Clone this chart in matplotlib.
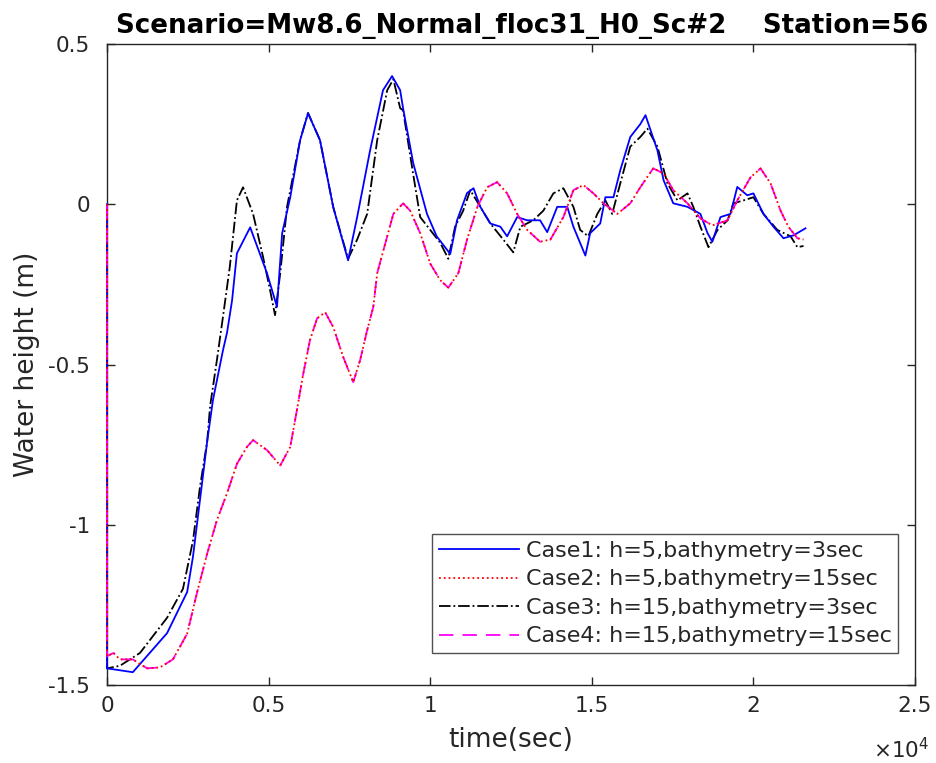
import matplotlib
matplotlib.use("Agg")
import matplotlib.pyplot as plt

# Case1 (blue solid)
t1 = [0, 1, 800, 1860, 2480, 2660, 2880, 3100, 3280, 3590, 3715, 3870, 4020, 4430, 4950, 5260, 5420,
      5670, 5975, 6220, 6590, 7000, 7460, 7740, 8140, 8540, 8820, 9070, 9160, 9475, 9900, 10200, 10620,
      10830, 11140, 11340, 11550, 11860, 12170, 12380, 12690, 13000, 13400, 13620, 13930, 14240, 14430,
      14800, 14950, 15260, 15420, 15670, 15880, 16190, 16500, 16660, 17030, 17220, 17520, 17960, 18360,
      18580, 18730, 18980, 19290, 19500, 19810, 20000, 20310, 20620, 20930, 21240, 21610]
y1 = [0, -1.448, -1.46, -1.338, -1.21, -1.10, -0.92, -0.74, -0.61, -0.455, -0.40, -0.30, -0.153, -0.072,
      -0.215, -0.32, -0.09, 0.022, 0.20, 0.284, 0.20, -0.009, -0.175, -0.04, 0.168, 0.356, 0.40, 0.356,
      0.30, 0.128, -0.03, -0.10, -0.155, -0.05, 0.035, 0.05, -0.008, -0.06, -0.07, -0.10, -0.04, -0.05,
      -0.05, -0.087, -0.008, -0.008, -0.07, -0.16, -0.09, -0.06, 0.022, 0.022, 0.106, 0.21, 0.25, 0.278,
      0.168, 0.075, 0.003, -0.008, -0.03, -0.09, -0.117, -0.04, -0.03, 0.054, 0.028, 0.034, -0.03, -0.07,
      -0.106, -0.097, -0.075]

# Case3 (black dash-dot)
t3 = [0, 1, 400, 1020, 1860, 2350, 2660, 2880, 3100, 3190, 3400, 3590, 3800, 4020, 4210, 4520, 4830,
      5050, 5200, 5360, 5570, 5975, 6220, 6590, 7000, 7460, 7740, 8050, 8360, 8670, 8860, 9070, 9160,
      9470, 9690, 10000, 10310, 10560, 10770, 11020, 11240, 11550, 11860, 12260, 12570, 12790, 13190,
      13500, 13810, 14120, 14430, 14640, 14890, 15170, 15420, 15630, 15880, 16190, 16500, 16720, 17030,
      17340, 17650, 17960, 18140, 18360, 18610, 18890, 19200, 19380, 19690, 20000, 20310, 20740, 21150,
      21360, 21550]
y3 = [0, -1.448, -1.44, -1.40, -1.29, -1.20, -1.05, -0.88, -0.74, -0.63, -0.487, -0.35, -0.195, 0.012,
      0.053, -0.03, -0.165, -0.27, -0.346, -0.215, -0.008, 0.20, 0.285, 0.20, -0.009, -0.17, -0.11, -0.03,
      0.20, 0.356, 0.39, 0.30, 0.293, 0.096, -0.04, -0.08, -0.12, -0.17, -0.07, -0.02, 0.044, -0.008,
      -0.06, -0.11, -0.15, -0.07, -0.05, -0.02, 0.034, 0.05, -0.008, -0.08, -0.10, -0.03, 0.012, -0.03,
      0.065, 0.18, 0.21, 0.236, 0.18, 0.065, 0.012, 0.034, -0.008, -0.07, -0.134, -0.08, -0.05, 0.003,
      0.012, 0.022, -0.03, -0.08, -0.10, -0.134, -0.13]

# Case2 / Case4 (nearly identical)
t2 = [0, 1, 200, 400, 800, 1240, 1640, 2040, 2480, 2790, 3100, 3400, 3720, 4020, 4330, 4520, 4950,
      5360, 5670, 5880, 6070, 6280, 6500, 6750, 7000, 7310, 7620, 7830, 8050, 8240, 8360, 8670, 8860,
      9160, 9380, 9690, 10000, 10310, 10560, 10870, 11140, 11460, 11760, 12070, 12380, 12690, 13000,
      13400, 13720, 14120, 14430, 14740, 15050, 15360, 15790, 16190, 16500, 16900, 17220, 17520, 17960,
      18360, 18730, 19200, 19500, 19910, 20220, 20530, 20840, 21080, 21360, 21550]
y2 = [0, -1.41, -1.40, -1.42, -1.42, -1.448, -1.445, -1.42, -1.34, -1.21, -1.09, -0.986, -0.90, -0.81,
      -0.757, -0.736, -0.767, -0.815, -0.757, -0.64, -0.53, -0.424, -0.356, -0.337, -0.383, -0.477,
      -0.555, -0.487, -0.393, -0.32, -0.215, -0.10, -0.03, 0.003, -0.02, -0.09, -0.185, -0.237, -0.26,
      -0.215, -0.11, -0.008, 0.053, 0.069, 0.034, -0.03, -0.08, -0.117, -0.11, -0.04, 0.044, 0.06, 0.034,
      0.003, -0.03, 0.003, 0.053, 0.112, 0.096, 0.044, 0.003, -0.044, -0.066, -0.05, 0.012, 0.084, 0.112,
      0.065, -0.02, -0.07, -0.106, -0.11]
t4 = list(t2)
y4 = list(y2)

labels = ["Case1: h=5,bathymetry=3sec", "Case2: h=5,bathymetry=15sec",
          "Case3: h=15,bathymetry=3sec", "Case4: h=15,bathymetry=15sec"]
xticks = [0, 5000, 10000, 15000, 20000, 25000]
xticklabels = ["0", "0.5", "1", "1.5", "2", "2.5"]
yticks = [-1.5, -1, -0.5, 0, 0.5]
yticklabels = ["-1.5", "-1", "-0.5", "0", "0.5"]

plt.rcParams['font.family'] = ['DejaVu Sans']
fig = plt.figure(figsize=(9.36, 7.63), dpi=100)
ax = fig.add_axes([0.1143, 0.1022, 0.8633, 0.8401])

ax.plot(t1, y1, color='#0000ff', ls='-', lw=1.3, label=labels[0], zorder=3, clip_on=False)
ax.plot(t2, y2, color='#ff0000', ls=':', lw=1.3, label=labels[1], zorder=5, clip_on=False)
ax.plot(t3, y3, color='black', ls='-.', lw=1.3, label=labels[2], zorder=2, clip_on=False)
ax.plot(t4, y4, color='#ff00ff', ls=(0, (8, 5)), lw=1.3, label=labels[3], zorder=4, clip_on=False)

ax.set_xlim(0, 25000)
ax.set_ylim(-1.5, 0.5)
ax.set_xticks(xticks)
ax.set_xticklabels(xticklabels)
ax.set_yticks(yticks)
ax.set_yticklabels(yticklabels)
gray = '#262626'
ax.tick_params(direction='in', top=True, right=True, length=6, width=1, colors=gray,
               labelsize=15.5)
ax.tick_params(axis='x', pad=8)
ax.tick_params(axis='y', pad=12)
for s in ax.spines.values():
    s.set_color(gray)
    s.set_linewidth(1)
    s.set_zorder(1)

ax.set_xlabel("time(sec)", fontsize=19, color=gray, labelpad=8)
ax.set_ylabel("Water height (m)", fontsize=19, color=gray, labelpad=6)
ax.set_title("Scenario=Mw8.6_Normal_floc31_H0_Sc#2    Station=56", fontsize=18.8,
             fontweight='bold', pad=8, x=0.514)
ax.text(1.018, -0.1, r"$\times\mathregular{10^{4}}$", transform=ax.transAxes, ha='right',
        va='center', fontsize=15.5, color=gray)

leg = ax.legend(loc='lower right', bbox_to_anchor=(0.979, 0.05), fontsize=16,
                handlelength=3.6, frameon=True, fancybox=False, borderpad=0.3,
                labelspacing=0.38, handletextpad=0.3, borderaxespad=0)
leg.get_frame().set_edgecolor(gray)
leg.get_frame().set_linewidth(1)
for txt in leg.get_texts():
    txt.set_color(gray)

fig.savefig("out.png", dpi=100)
